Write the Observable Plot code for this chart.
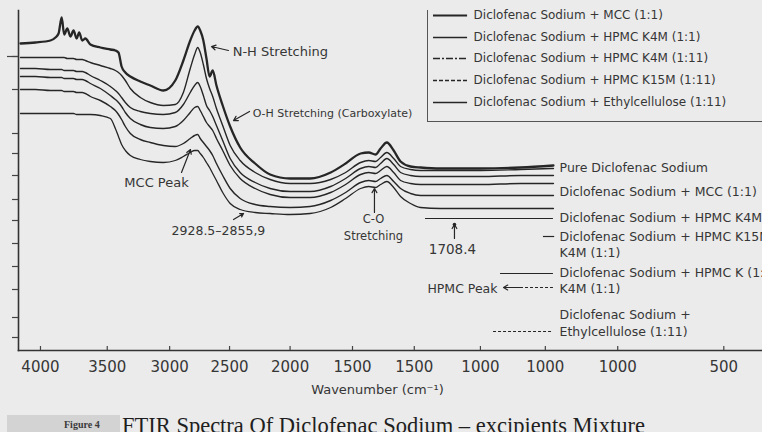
<!DOCTYPE html>
<html><head><meta charset="utf-8">
<script src="https://cdn.jsdelivr.net/npm/d3@7"></script>
<script src="https://cdn.jsdelivr.net/npm/@observablehq/plot@0.6"></script>
<style>
html,body{margin:0;padding:0;background:#ebebeb;overflow:hidden;}
#wrap{position:relative;width:762px;height:432px;overflow:hidden;background:#ebebeb;}
#chart svg{display:block;}
#cap{position:absolute;left:0;top:405px;width:762px;height:27px;overflow:hidden;}
#capbox{position:absolute;left:7px;top:10px;width:113px;height:20px;background:#d3d3d3;}
#figno{position:absolute;left:64px;top:14px;font:bold 10px "Liberation Serif",serif;color:#3a3a3a;white-space:nowrap;}
#captext{position:absolute;left:122px;top:10px;font:22.5px/22px "Liberation Serif",serif;color:#1e1e1e;white-space:nowrap;}
</style></head>
<body>
<div id="wrap">
  <div id="chart"></div>
  <div id="cap"><div id="capbox"></div><div id="figno">Figure 4</div><div id="captext">FTIR Spectra Of Diclofenac Sodium – excipients Mixture</div></div>
</div>
<script>
// ---- data (x: wavenumber units of the printed axis, y: relative transmittance, offset) ----
const wavenumbers = [4160,4040,3920,3880,3855,3830,3810,3785,3760,3735,3710,3690,3665,3640,3600,3520,3440,3400,3375,3350,3320,3280,3200,3120,3015,2920,2855,2800,2765,2740,2720,2695,2670,2645,2620,2590,2540,2480,2400,2280,2160,2000,1840,1675,1555,1435,1370,1315,1275,1225,1170,1115,1035,955,795,475,155,-110];

const pureDS = [307,308,310,313,317,333,316,322,314,320,312,318,310,312,306,303,301,300,298,284,278,274,269,265,260,270,290,310,320,324,320,310,292,274,280,265,245,224,203,187,176,172,172,178,187,197,198,196,202,208,200,189,184,183,182,182,183,185];
const dsMCC = [293,293,293,293,293,293,293,292,292,292,291,291,291,290,288,285,282,280,278,275,270,262,253,248,245,246,258,282,296,303,298,286,272,262,254,242,225,205,190,178,171,167,167,171,178,188,190,189,193,198,192,184,181,180,180,180,181,182];
const dsK4M11 = [282,282,281,281,281,281,280,280,280,280,279,279,279,278,275,270,264,260,257,253,248,243,239,237,236,238,246,258,265,268,264,255,245,240,234,225,210,192,178,168,162,159,159,164,172,182,184,183,187,192,186,178,175,174,174,174,175,175];
const dsK4M111 = [274,274,273,273,273,273,272,272,272,272,271,271,271,270,267,262,255,251,248,244,238,232,226,223,222,224,230,238,243,244,240,234,228,224,220,212,200,185,172,162,156,153,153,158,166,176,178,177,180,184,178,170,167,166,166,166,167,167];
const dsK15M = [261,261,260,260,260,260,259,259,259,259,258,258,258,257,254,250,244,240,236,231,224,217,211,208,205,204,207,212,215,216,212,208,204,200,195,187,175,162,152,146,144,143,144,150,158,168,170,169,172,175,169,162,157,155,155,155,155,155];
const dsEC = [237,237,237,237,237,237,237,237,237,237,236,236,236,236,236,235,232,222,214,206,200,195,191,189,188,190,194,198,200,200,197,193,188,183,177,170,158,147,141,138,137,136,137,143,152,162,164,163,166,169,163,154,147,143,142,142,142,142];

const seriesNames = ["Pure Diclofenac Sodium","Diclofenac Sodium + MCC (1:1)","Diclofenac Sodium + HPMC K4M (1:1)","Diclofenac Sodium + HPMC K4M (1:11)","Diclofenac Sodium + HPMC K15M (1:11)","Diclofenac Sodium + Ethylcellulose (1:11)"];
const seriesValues = [pureDS, dsMCC, dsK4M11, dsK4M111, dsK15M, dsEC];

const xTickPos = [4000,3465,2965,2485,2000,1500,1005,475,-45,-625,-1475];
const xTickLabels = ["4000","3500","3000","2500","2000","1500","1500","1000","1000","1000","500"];
const yTickPos = [294,261,217,197,175,151,130,107,84,61,33,13];

const legendLabels = ["Diclofenac Sodium + MCC (1:1)","Diclofenac Sodium + HPMC K4M (1:1)","Diclofenac Sodium + HPMC K4M (1:11)","Diclofenac Sodium + HPMC K15M (1:11)","Diclofenac Sodium + Ethylcellulose (1:11)"];
const legendY = [335,313,292,270,248];

const endLabels = ["Pure Diclofenac Sodium","Diclofenac Sodium + MCC (1:1)","Diclofenac Sodium + HPMC K4M (1:1)","Diclofenac Sodium + HPMC K15M (1:11)","K4M (1:1)","Diclofenac Sodium + HPMC K (1:11)","K4M (1:1)","Diclofenac Sodium +","Ethylcellulose (1:11)"];
const endLabelY = [183,159,133,114,98,78,62,36,19];

// ---- build tidy rows ----
const rows = seriesNames.flatMap((s, j) => wavenumbers.map((w, i) => ({series: s, w, v: seriesValues[j][i]})));

const ink = "#262626";
const txt = "#363636";
const font = "DejaVu Sans";

const lineWidths = [2.3, 1.4, 1.4, 1.4, 1.4, 1.3];
const lineMarks = seriesNames.map((s, j) =>
  Plot.line(rows.filter(r => r.series === s), {x: "w", y: "v", stroke: ink, strokeWidth: lineWidths[j], curve: "monotone-x"})
);

const legendDash = [null, null, "7,2,2,2", "4,2", null];
const legendWidth = [2, 1.3, 1.3, 1.3, 1.6];
const legendMarks = legendLabels.flatMap((lab, i) => [
  Plot.ruleY([legendY[i]], {x1: 851, x2: 578, stroke: ink, strokeWidth: legendWidth[i], strokeDasharray: legendDash[i] || undefined}),
  Plot.text([lab], {x: 530, y: legendY[i], text: d => d, textAnchor: "start", fontSize: 12, fill: txt})
]);

const annText = [
  {t: "N-H Stretching", x: 2460, y: 299, a: "start", s: 13},
  {t: "O-H Stretching (Carboxylate)", x: 2300, y: 237, a: "start", s: 11},
  {t: "MCC Peak", x: 3070, y: 168, a: "middle", s: 13},
  {t: "2928.5–2855,9", x: 2574, y: 120, a: "middle", s: 12.5},
  {t: "C-O", x: 1332, y: 131, a: "middle", s: 11.5},
  {t: "Stretching", x: 1332, y: 114, a: "middle", s: 11.5},
  {t: "1708.4", x: 699, y: 101, a: "middle", s: 13.5},
  {t: "HPMC Peak", x: 338, y: 62, a: "end", s: 12.5},
  {t: "Wavenumber (cm⁻¹)", x: 1300, y: -39, a: "middle", s: 13}
];
const annArrows = [
  {x1: 2494, y1: 300, x2: 2630, y2: 304},
  {x1: 2325, y1: 239, x2: 2453, y2: 230},
  {x1: 2870, y1: 178, x2: 2798, y2: 201},
  {x1: 2453, y1: 131, x2: 2373, y2: 137},
  {x1: 1324, y1: 138, x2: 1324, y2: 162},
  {x1: 683, y1: 112, x2: 683, y2: 126}
];
const annRules = [
  {x1: 915, x2: -110, y: 132, dash: null},
  {x1: -30, x2: -120, y: 114, dash: null},
  {x1: 314, x2: -110, y: 77, dash: null},
  {x1: 370, x2: -110, y: 19, dash: "3,2"},
  {x1: 274, x2: -110, y: 63, dash: "3,2"}
];

const chart = Plot.plot({
  width: 762,
  height: 405,
  marginLeft: 18,
  marginRight: 0,
  marginTop: 10,
  marginBottom: 55,
  style: {background: "transparent", fontFamily: font, color: txt, overflow: "visible"},
  x: {domain: [4176, -1785], axis: null},
  y: {domain: [0, 340], axis: null},
  marks: [
    Plot.frame({anchor: "left", stroke: "#333", strokeWidth: 1.6}),
    Plot.frame({anchor: "bottom", stroke: "#333", strokeWidth: 1.6}),
    Plot.axisY({ticks: yTickPos, tickFormat: () => "", tickSize: 6, stroke: "#444", strokeWidth: 1.2}),
    Plot.axisY({ticks: [294], tickFormat: () => "", tickSize: 11, stroke: "#444", strokeWidth: 1.2}),
    Plot.axisX({ticks: xTickPos, tickFormat: d => xTickLabels[xTickPos.indexOf(d)], tickSize: 0, tickPadding: 11, fontSize: 15, fill: txt, label: null}),
    Plot.ruleX(xTickPos, {x: d => d, y1: 0, y2: 4, stroke: "#444", strokeWidth: 1.2}),
    ...lineMarks,
    // legend box
    Plot.ruleX([899], {y1: 229, y2: 340, stroke: "#555", strokeWidth: 1}),
    Plot.ruleY([229], {x1: 899, x2: -1785, stroke: "#555", strokeWidth: 1}),
    ...legendMarks,
    // right-hand labels
    Plot.text(endLabels, {x: -159, y: (d, i) => endLabelY[i], text: d => d, textAnchor: "start", fontSize: 12.5, fill: txt}),
    ...annRules.map(r => Plot.ruleY([r], {x1: "x1", x2: "x2", y: "y", stroke: ink, strokeWidth: 1.2, strokeDasharray: r.dash || undefined})),
    Plot.arrow([{x1: 150, y1: 63, x2: 290, y2: 63}], {x1: "x1", y1: "y1", x2: "x2", y2: "y2", stroke: ink, strokeWidth: 1.2, headLength: 6}),
    Plot.arrow(annArrows, {x1: "x1", y1: "y1", x2: "x2", y2: "y2", stroke: ink, strokeWidth: 1.2, headLength: 6}),
    Plot.dot([annArrows[5]], {x: "x2", y: "y2", r: 1.8, fill: ink}),
    ...annText.map(a => Plot.text([a], {x: "x", y: "y", text: "t", textAnchor: a.a, fontSize: a.s, fill: txt}))
  ]
});
document.getElementById("chart").appendChild(chart);
</script>
</body></html>
